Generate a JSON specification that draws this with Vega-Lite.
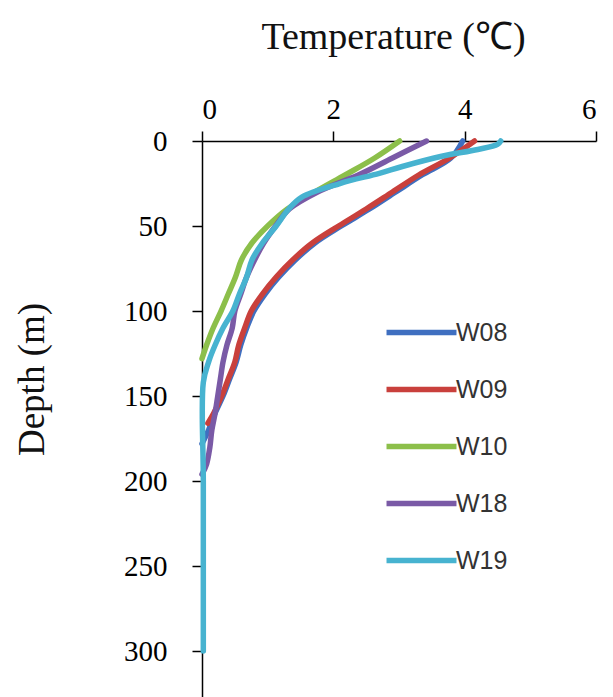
{
  "$schema": "https://vega.github.io/schema/vega-lite/v6.json",
  "autosize": "none",
  "width": 394,
  "height": 556,
  "padding": {"left": 202, "top": 141, "right": 17, "bottom": 0},
  "background": "white",
  "config": {"view": {"stroke": null}},
  "data": {"values": [
    {"well": "W08", "depth": 0, "temp": 3.97},
    {"well": "W08", "depth": 10, "temp": 3.79},
    {"well": "W08", "depth": 20, "temp": 3.35},
    {"well": "W08", "depth": 30, "temp": 2.95},
    {"well": "W08", "depth": 40, "temp": 2.55},
    {"well": "W08", "depth": 50, "temp": 2.12},
    {"well": "W08", "depth": 60, "temp": 1.72},
    {"well": "W08", "depth": 70, "temp": 1.42},
    {"well": "W08", "depth": 80, "temp": 1.17},
    {"well": "W08", "depth": 90, "temp": 0.96},
    {"well": "W08", "depth": 100, "temp": 0.79},
    {"well": "W08", "depth": 110, "temp": 0.68},
    {"well": "W08", "depth": 120, "temp": 0.59},
    {"well": "W08", "depth": 130, "temp": 0.52},
    {"well": "W08", "depth": 140, "temp": 0.42},
    {"well": "W08", "depth": 150, "temp": 0.32},
    {"well": "W08", "depth": 160, "temp": 0.2},
    {"well": "W08", "depth": 170, "temp": 0.1},
    {"well": "W08", "depth": 178, "temp": 0},
    {"well": "W09", "depth": 0, "temp": 4.15},
    {"well": "W09", "depth": 10, "temp": 3.77},
    {"well": "W09", "depth": 20, "temp": 3.3},
    {"well": "W09", "depth": 30, "temp": 2.9},
    {"well": "W09", "depth": 40, "temp": 2.5},
    {"well": "W09", "depth": 50, "temp": 2.08},
    {"well": "W09", "depth": 60, "temp": 1.68},
    {"well": "W09", "depth": 70, "temp": 1.38},
    {"well": "W09", "depth": 80, "temp": 1.13},
    {"well": "W09", "depth": 90, "temp": 0.92},
    {"well": "W09", "depth": 100, "temp": 0.75},
    {"well": "W09", "depth": 110, "temp": 0.65},
    {"well": "W09", "depth": 120, "temp": 0.56},
    {"well": "W09", "depth": 130, "temp": 0.5},
    {"well": "W09", "depth": 140, "temp": 0.4},
    {"well": "W09", "depth": 150, "temp": 0.3},
    {"well": "W09", "depth": 160, "temp": 0.18},
    {"well": "W09", "depth": 166, "temp": 0.09},
    {"well": "W10", "depth": 0, "temp": 3.01},
    {"well": "W10", "depth": 10, "temp": 2.63},
    {"well": "W10", "depth": 20, "temp": 2.18},
    {"well": "W10", "depth": 30, "temp": 1.72},
    {"well": "W10", "depth": 40, "temp": 1.3},
    {"well": "W10", "depth": 50, "temp": 1.0},
    {"well": "W10", "depth": 60, "temp": 0.76},
    {"well": "W10", "depth": 70, "temp": 0.6},
    {"well": "W10", "depth": 80, "temp": 0.51},
    {"well": "W10", "depth": 90, "temp": 0.4},
    {"well": "W10", "depth": 100, "temp": 0.29},
    {"well": "W10", "depth": 110, "temp": 0.17},
    {"well": "W10", "depth": 120, "temp": 0.07},
    {"well": "W10", "depth": 128, "temp": 0},
    {"well": "W18", "depth": 0, "temp": 3.42},
    {"well": "W18", "depth": 10, "temp": 2.9},
    {"well": "W18", "depth": 20, "temp": 2.38},
    {"well": "W18", "depth": 30, "temp": 1.76},
    {"well": "W18", "depth": 40, "temp": 1.33},
    {"well": "W18", "depth": 50, "temp": 1.12},
    {"well": "W18", "depth": 60, "temp": 0.94},
    {"well": "W18", "depth": 70, "temp": 0.8},
    {"well": "W18", "depth": 80, "temp": 0.68},
    {"well": "W18", "depth": 90, "temp": 0.59},
    {"well": "W18", "depth": 100, "temp": 0.5},
    {"well": "W18", "depth": 110, "temp": 0.46},
    {"well": "W18", "depth": 120, "temp": 0.38},
    {"well": "W18", "depth": 130, "temp": 0.32},
    {"well": "W18", "depth": 140, "temp": 0.28},
    {"well": "W18", "depth": 150, "temp": 0.24},
    {"well": "W18", "depth": 160, "temp": 0.2},
    {"well": "W18", "depth": 170, "temp": 0.15},
    {"well": "W18", "depth": 180, "temp": 0.12},
    {"well": "W18", "depth": 190, "temp": 0.07},
    {"well": "W18", "depth": 196, "temp": 0},
    {"well": "W19", "depth": 0, "temp": 4.55},
    {"well": "W19", "depth": 2, "temp": 4.5},
    {"well": "W19", "depth": 5, "temp": 4.2},
    {"well": "W19", "depth": 9, "temp": 3.65},
    {"well": "W19", "depth": 15, "temp": 3.05},
    {"well": "W19", "depth": 19, "temp": 2.7},
    {"well": "W19", "depth": 25, "temp": 2.1},
    {"well": "W19", "depth": 33, "temp": 1.52},
    {"well": "W19", "depth": 40, "temp": 1.32},
    {"well": "W19", "depth": 50, "temp": 1.13},
    {"well": "W19", "depth": 60, "temp": 0.92},
    {"well": "W19", "depth": 70, "temp": 0.76},
    {"well": "W19", "depth": 80, "temp": 0.68},
    {"well": "W19", "depth": 90, "temp": 0.57},
    {"well": "W19", "depth": 100, "temp": 0.47},
    {"well": "W19", "depth": 110, "temp": 0.32},
    {"well": "W19", "depth": 120, "temp": 0.2},
    {"well": "W19", "depth": 130, "temp": 0.1},
    {"well": "W19", "depth": 142, "temp": 0.02},
    {"well": "W19", "depth": 200, "temp": 0.02},
    {"well": "W19", "depth": 300, "temp": 0.02}
  ]},
  "mark": {"type": "line", "strokeWidth": 5.5, "strokeCap": "round", "strokeJoin": "round", "interpolate": "catmull-rom", "clip": false},
  "encoding": {
    "x": {
      "field": "temp", "type": "quantitative",
      "scale": {"domain": [0, 6], "nice": false, "zero": false},
      "axis": {
        "orient": "top", "values": [0, 2, 4, 6], "grid": false,
        "domainColor": "#000", "domainWidth": 1.5, "tickColor": "#000", "tickWidth": 1.5, "tickSize": 10,
        "labelFont": "Liberation Serif", "labelFontSize": 29, "labelColor": "#000", "labelPadding": 7,
        "title": "Temperature (℃)", "titleFont": "Liberation Serif", "titleFontSize": 38, "titleFontWeight": "normal", "titleColor": "#111",
        "titleX": 191, "titleY": -104, "titleBaseline": "middle", "titleAlign": "center", "titleAnchor": null
      }
    },
    "y": {
      "field": "depth", "type": "quantitative",
      "scale": {"domain": [0, 327], "reverse": true, "nice": false, "zero": false},
      "axis": {
        "orient": "left", "values": [0, 50, 100, 150, 200, 250, 300], "grid": false,
        "domainColor": "#000", "domainWidth": 1.5, "tickColor": "#000", "tickWidth": 1.5, "tickSize": 10,
        "labelFont": "Liberation Serif", "labelFontSize": 29, "labelColor": "#000", "labelPadding": 25,
        "title": "Depth (m)", "titleFont": "Liberation Serif", "titleFontSize": 37, "titleFontWeight": "normal", "titleColor": "#111",
        "titleX": -170, "titleY": 238, "titleAngle": -90, "titleBaseline": "middle", "titleAlign": "center", "titleAnchor": null
      }
    },
    "color": {
      "field": "well", "type": "nominal",
      "scale": {"domain": ["W08", "W09", "W10", "W18", "W19"], "range": ["#3F6FC0", "#C9403C", "#8CBF4A", "#7A5AA6", "#47B3D0"]},
      "legend": {
        "orient": "none", "legendX": 205, "legendY": 177, "title": null,
        "symbolType": "M-3,0H3", "symbolSize": 544, "symbolStrokeWidth": 5.5, "symbolFillColor": "transparent",
        "labelFont": "Liberation Sans", "labelFontSize": 25, "labelColor": "#333", "labelOffset": 20,
        "rowPadding": 29
      }
    },
    "order": {"field": "depth", "type": "quantitative"}
  }
}
